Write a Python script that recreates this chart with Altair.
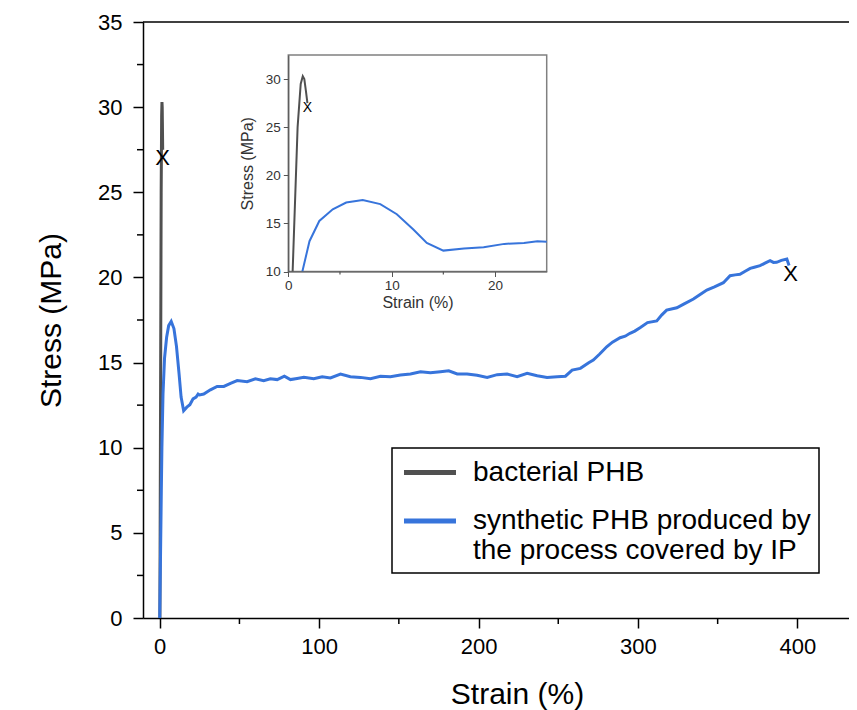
import altair as alt
import pandas as pd

FONT = "Liberation Sans"
GRAY = "#505050"
BLUE = "#3774db"

# ---------------- data ----------------
series_names = ["bacterial PHB", "synthetic PHB produced by|the process covered by IP"]

gray_strain = [0.1, 0.42, 0.9, 1.2, 1.4, 1.55, 1.7, 1.85]
gray_stress = [0.0, 10.0, 25.0, 29.5, 30.3, 30.0, 28.8, 27.5]

blue_strain = [0.0, 0.6, 1.0, 1.36, 2.05, 3.0, 4.3, 5.6, 7.2, 8.9, 10.5, 12.1, 13.4, 15.0,
               17.0, 18.9, 20.9, 22.8, 24.1, 25.0, 27.6, 31.8, 36.0, 40.2, 44.4, 48.6, 54.8,
               60.0, 65.2, 69.4, 73.7, 78.2, 82.0, 86.2, 90.4, 96.6, 101.9, 107.1, 113.4,
               119.6, 125.9, 132.2, 138.5, 144.7, 151.0, 157.3, 163.6, 169.8, 176.1, 181.3,
               186.6, 192.8, 199.1, 205.4, 211.7, 217.9, 224.2, 230.5, 236.8, 243.0, 249.3,
               254.5, 258.7, 263.9, 269.1, 272.0, 276.0, 280.4, 284.0, 288.8, 292.0, 295.0,
               298.0, 301.3, 306.0, 311.8, 315.0, 318.0, 321.0, 324.4, 329.0, 334.8, 339.0,
               343.2, 348.0, 353.6, 357.8, 361.0, 364.0, 367.0, 370.4, 373.0, 376.6, 380.0,
               382.9, 385.0, 387.0, 390.0, 393.4, 394.8]
blue_stress = [0.0, 4.5, 7.5, 10.0, 13.15, 15.25, 16.47, 17.17, 17.42, 17.0, 15.95, 14.37, 12.97, 12.17,
               12.38, 12.52, 12.87, 12.97, 13.15, 13.1, 13.15, 13.4, 13.6, 13.6, 13.78, 13.94, 13.88,
               14.05, 13.94, 14.05, 14.0, 14.2, 14.0, 14.07, 14.13, 14.05, 14.17, 14.1, 14.33,
               14.17, 14.13, 14.05, 14.2, 14.17, 14.27, 14.33, 14.46, 14.4, 14.46, 14.52,
               14.33, 14.33, 14.25, 14.13, 14.29, 14.33, 14.17, 14.37, 14.23, 14.13, 14.17,
               14.2, 14.56, 14.66, 14.99, 15.15, 15.5, 15.93, 16.2, 16.46, 16.55, 16.72,
               16.85, 17.05, 17.35, 17.45, 17.8, 18.08, 18.15, 18.22, 18.45, 18.73, 19.0,
               19.26, 19.45, 19.69, 20.1, 20.15, 20.18, 20.35, 20.53, 20.6, 20.69, 20.85,
               20.98, 20.88, 20.89, 21.0, 21.08, 20.7]

break_strain = [1.85, 395.7]
break_stress = [27.0, 20.2]

x_major = [0, 100, 200, 300, 400]
x_minor = [50, 150, 250, 350]
y_major = [0, 5, 10, 15, 20, 25, 30, 35]
y_minor = [2.5, 7.5, 12.5, 17.5, 22.5, 27.5, 32.5]

inset_x_domain = [0, 25]
inset_y_domain = [10, 32.5]
inset_x_ticks = [0, 10, 20]
inset_x_minor = [5, 15]
inset_y_ticks = [10, 15, 20, 25, 30]

# ---------------- layout ----------------
W, H = 706, 596
X_DOMAIN = [-10.5, 432.4]
Y_DOMAIN = [0, 35]
INSET_LEFT, INSET_RIGHT = 145.3, 403.7
INSET_BOTTOM, INSET_TOP = 249.5, 33.0

rows = []
for i, (s, t) in enumerate(zip(gray_strain, gray_stress)):
    rows.append({"series": series_names[0], "strain": s, "stress": t, "idx": i})
for i, (s, t) in enumerate(zip(blue_strain, blue_stress)):
    rows.append({"series": series_names[1], "strain": s, "stress": t, "idx": i})
df = pd.DataFrame(rows)
gray_df = df[df["series"] == series_names[0]]
blue_df = df[df["series"] == series_names[1]]
breaks_df = pd.DataFrame({"strain": break_strain, "stress": break_stress})


def xs():
    return alt.Scale(domain=X_DOMAIN, nice=False, zero=False)


def ys():
    return alt.Scale(domain=Y_DOMAIN, nice=False, zero=False)


def ixs():
    return alt.Scale(domain=inset_x_domain, range=[INSET_LEFT, INSET_RIGHT], nice=False, zero=False)


def iys():
    return alt.Scale(domain=inset_y_domain, range=[INSET_BOTTOM, INSET_TOP], nice=False, zero=False)


color_scale = alt.Scale(domain=series_names, range=[GRAY, BLUE])

x_axis = alt.Axis(values=x_major, title="Strain (%)", orient="bottom", grid=False, format="d",
                  domainColor="black", domainWidth=1.5, tickColor="black", tickWidth=1.5,
                  tickSize=10, labelFontSize=22, labelColor="black", labelPadding=8,
                  labelFlush=False, titleFontSize=30, titleFontWeight="normal",
                  titleColor="black", titleX=374, titleY=85, titleBaseline="alphabetic",
                  titleAlign="center")
y_axis = alt.Axis(values=y_major, title="Stress (MPa)", orient="left", grid=False, format="d",
                  domainColor="black", domainWidth=1.5, tickColor="black", tickWidth=1.5,
                  tickSize=10, labelFontSize=22, labelColor="black", labelPadding=11,
                  labelFlush=False, titleFontSize=30, titleFontWeight="normal",
                  titleColor="black", titleX=-83, titleY=H / 2, titleAngle=270,
                  titleBaseline="alphabetic", titleAlign="center")
legend = alt.Legend(title=None, orient="none", legendX=249, legendY=426, direction="vertical",
                    fillColor="white", strokeColor="black", padding=8,
                    symbolType="M-0.893,0H2.821", symbolSize=784, symbolStrokeWidth=5,
                    labelFontSize=28, labelColor="black", labelOffset=40, labelLimit=0,
                    rowPadding=17.5, labelExpr="split(datum.label, '|')")

gray_line = alt.Chart(gray_df).mark_line(strokeWidth=3).encode(
    x=alt.X("strain:Q", scale=xs(), axis=x_axis),
    y=alt.Y("stress:Q", scale=ys(), axis=y_axis),
    color=alt.Color("series:N", scale=color_scale, legend=legend),
    order="idx:Q",
)
blue_line = alt.Chart(blue_df).mark_line(strokeWidth=3).encode(
    x=alt.X("strain:Q", scale=xs(), axis=None),
    y=alt.Y("stress:Q", scale=ys(), axis=None),
    color=alt.Color("series:N", scale=color_scale, legend=legend),
    order="idx:Q",
)

top_border = alt.Chart(pd.DataFrame({"a": [0]})).mark_rule(color="black", strokeWidth=1.5).encode(
    x=alt.value(0), x2=alt.value(W), y=alt.value(0))
x_minor_rules = alt.Chart(pd.DataFrame({"strain": x_minor})).mark_rule(color="black", strokeWidth=1.5).encode(
    x=alt.X("strain:Q", scale=xs(), axis=None), y=alt.value(H), y2=alt.value(H + 6))
y_minor_rules = alt.Chart(pd.DataFrame({"stress": y_minor})).mark_rule(color="black", strokeWidth=1.5).encode(
    y=alt.Y("stress:Q", scale=ys(), axis=None), x=alt.value(0), x2=alt.value(-6))
main_breaks = alt.Chart(breaks_df).mark_text(text="X", fontSize=22, color="black").encode(
    x=alt.X("strain:Q", scale=xs(), axis=None), y=alt.Y("stress:Q", scale=ys(), axis=None))

# ---------------- inset ----------------
inset_x_axis = alt.Axis(values=inset_x_ticks, title="Strain (%)", orient="bottom",
                        offset=INSET_BOTTOM - H, grid=False, format="d", zindex=1,
                        domainColor="#555555", domainWidth=1.2, tickColor="#555555",
                        tickSize=5, labelFontSize=13.5, labelColor="#333333", labelPadding=2,
                        labelFlush=False, titleFontSize=16, titleFontWeight="normal",
                        titleColor="#333333", titlePadding=2)
inset_y_axis = alt.Axis(values=inset_y_ticks, title="Stress (MPa)", orient="left",
                        offset=-INSET_LEFT, grid=False, format="d", zindex=1,
                        domainColor="#555555", domainWidth=1.2, tickColor="#555555",
                        tickSize=5, labelFontSize=13.5, labelColor="#333333", labelPadding=3,
                        labelFlush=False, titleFontSize=16, titleFontWeight="normal",
                        titleColor="#333333", titlePadding=10)

frame_df = pd.DataFrame({"x0": [inset_x_domain[0]], "x1": [inset_x_domain[1]],
                         "y0": [inset_y_domain[0]], "y1": [inset_y_domain[1]]})
frame = alt.Chart(frame_df).mark_rect(fill="white", stroke="#808080", strokeWidth=1.5).encode(
    x=alt.X("x0:Q", scale=ixs(), axis=inset_x_axis), x2="x1:Q",
    y=alt.Y("y0:Q", scale=iys(), axis=inset_y_axis), y2="y1:Q")

inset_filter = f"datum.strain <= {inset_x_domain[1]} && datum.stress >= {inset_y_domain[0]}"


def inset_line(d, col):
    return alt.Chart(d).transform_filter(inset_filter).mark_line(strokeWidth=2, color=col).encode(
        x=alt.X("strain:Q", scale=ixs(), axis=None),
        y=alt.Y("stress:Q", scale=iys(), axis=None),
        order="idx:Q")


inset_minor = alt.Chart(pd.DataFrame({"strain": inset_x_minor})).mark_rule(color="#555555", strokeWidth=1.2).encode(
    x=alt.X("strain:Q", scale=ixs(), axis=None), y=alt.value(INSET_BOTTOM), y2=alt.value(INSET_BOTTOM + 3))
inset_breaks = alt.Chart(breaks_df).transform_filter(inset_filter).mark_text(
    text="X", fontSize=14, color="black").encode(
    x=alt.X("strain:Q", scale=ixs(), axis=None), y=alt.Y("stress:Q", scale=iys(), axis=None))

chart = alt.layer(
    gray_line, blue_line, top_border, x_minor_rules, y_minor_rules, main_breaks,
    frame, inset_minor, inset_line(gray_df, GRAY), inset_line(blue_df, BLUE), inset_breaks,
).resolve_scale(x="independent", y="independent").properties(
    width=W, height=H,
    padding={"left": 135, "top": 14, "right": 0, "bottom": 94},
    autosize=alt.AutoSizeParams(type="none"),
).configure(
    font=FONT, style={"guide-label": {"lineHeight": 29.5}}
).configure_view(stroke=None).configure_legend(strokeWidth=1.5)

chart.save("out.html", embed_options={"renderer": "svg", "actions": False})
